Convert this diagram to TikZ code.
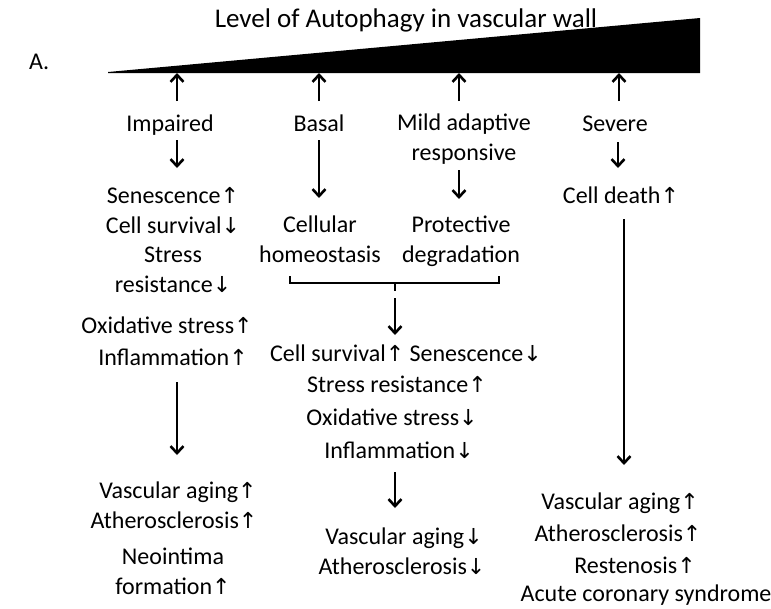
\documentclass[tikz,border=0pt]{standalone}
\usepackage{fontspec}
\setmainfont{Carlito}
\newfontfamily\arrfont{DejaVu Sans}
\newcommand\myup{{\arrfont\fontsize{22}{22}\selectfont ↑}}
\newcommand\mydown{{\arrfont\fontsize{22}{22}\selectfont ↓}}
\usetikzlibrary{arrows.meta}
\begin{document}
\begin{tikzpicture}[x=1pt,y=-1pt,
  txt/.style={anchor=base,inner sep=0pt,align=center,font=\fontsize{24}{29.5}\selectfont},
  arr/.style={line width=2.8pt,-{Straight Barb[length=7pt,width=13pt,line width=2.6pt]}},
  brk/.style={line width=2.2pt}]
\useasboundingbox (0,0) rectangle (771,608);
% title and wedge
\node[txt,font=\fontsize{27}{32}\selectfont] (title) at (406,27) {Level of Autophagy in vascular wall};
\node[txt,anchor=base west] (lblA) at (29,69) {A.};
\fill (108,72) -- (700,18) -- (700,73) -- (108,73) -- cycle;
% level labels
\node[txt] (imp) at (170,131) {Impaired};
\node[txt] (bas) at (319,131) {Basal};
\node[txt] (mild) at (464,160) {Mild adaptive\\responsive};
\node[txt] (sev) at (615,131) {Severe};
% arrow coordinates
\coordinate (t1) at (177,73); \coordinate (b1) at (177,101);
\coordinate (t2) at (319,73); \coordinate (b2) at (319,101);
\coordinate (t3) at (459,73); \coordinate (b3) at (459,101);
\coordinate (t4) at (619,73); \coordinate (b4) at (619,101);
\draw[arr] (b1) -- (t1);
\draw[arr] (b2) -- (t2);
\draw[arr] (b3) -- (t3);
\draw[arr] (b4) -- (t4);
% second row
\node[txt] (impres) at (173,292) {Senescence\myup\\Cell survival\mydown\\Stress\\resistance\mydown};
\node[txt] (cell) at (320,262) {Cellular\\homeostasis};
\node[txt] (prot) at (461,262) {Protective\\degradation};
\node[txt] (death) at (621,203) {Cell death\myup};
\coordinate (i1) at (177,140); \coordinate (i2) at (177,168);
\coordinate (ba1) at (319,140); \coordinate (ba2) at (319,198);
\coordinate (m1) at (459,170); \coordinate (m2) at (459,199);
\coordinate (s1) at (618,142); \coordinate (s2) at (618,168);
\draw[arr] (i1) -- (i2);
\draw[arr] (ba1) -- (ba2);
\draw[arr] (m1) -- (m2);
\draw[arr] (s1) -- (s2);
% bracket
\coordinate (bl) at (290,276); \coordinate (br) at (499,276);
\coordinate (bm) at (395,283); \coordinate (bs) at (395,291);
\draw[brk] (bl) -- (290,283) -- (499,283) -- (br);
\draw[brk] (bm) -- (bs);
\coordinate (c1) at (395,298); \coordinate (c2) at (395,335);
\draw[arr] (c1) -- (c2);
% left column
\node[txt] (ox1) at (167,333) {Oxidative stress\myup};
\node[txt] (inf1) at (173,365) {Inflammation\myup};
\coordinate (l1) at (177,382); \coordinate (l2) at (177,455);
\draw[arr] (l1) -- (l2);
\node[txt] (va1) at (178,498) {Vascular aging\myup};
\node[txt] (at1) at (174,528) {Atherosclerosis\myup};
\node[txt] (neo) at (173,594) {Neointima\\formation\myup};
% middle column
\node[txt] (cs2) at (406,361) {Cell survival\myup{} Senescence\mydown};
\node[txt] (sr2) at (397,392) {Stress resistance\myup};
\node[txt] (ox2) at (392,425) {Oxidative stress\mydown};
\node[txt] (inf2) at (399,458) {Inflammation\mydown};
\coordinate (n1) at (395,472); \coordinate (n2) at (395,508);
\draw[arr] (n1) -- (n2);
\node[txt] (va2) at (404,544) {Vascular aging\mydown};
\node[txt] (at2) at (402,574) {Atherosclerosis\mydown};
% right column
\coordinate (r1) at (624,219); \coordinate (r2) at (624,465);
\draw[arr] (r1) -- (r2);
\node[txt] (va3) at (620,509) {Vascular aging\myup};
\node[txt] (at3) at (618,541) {Atherosclerosis\myup};
\node[txt] (res) at (635,573) {Restenosis\myup};
\node[txt] (acs) at (646,601) {Acute coronary syndrome};
\end{tikzpicture}
\end{document}
